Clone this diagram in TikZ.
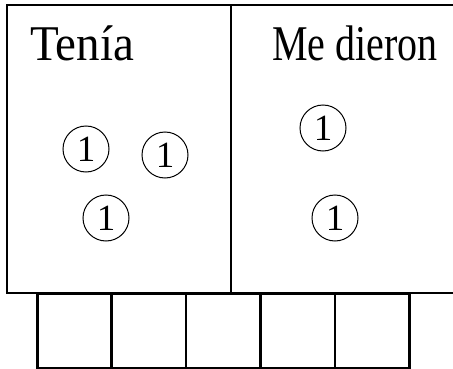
\documentclass[tikz,border=0pt]{standalone}
\usepackage{fontspec}
\usepackage{graphicx}
\setmainfont{Liberation Serif}
\begin{document}
\begin{tikzpicture}[x=1pt,y=1pt,
  panel/.style={draw, line width=2.2pt, minimum width=224pt, minimum height=288pt, inner sep=0pt, anchor=north west},
  cell/.style={draw, line width=2.6pt, minimum width=74.4pt, minimum height=75pt, inner sep=0pt, anchor=north west},
  token/.style={draw, circle, line width=1pt, minimum size=46pt, inner sep=0pt, font=\fontsize{37}{40}\selectfont},
  title/.style={anchor=base west, inner sep=0pt, font=\fontsize{50}{54}\selectfont}]
\useasboundingbox (0,0) rectangle (453,368);
\node[panel] (L) at (6,364) {};
\node[panel] (R) at (230,364) {};
\foreach \i in {0,...,4}{
  \node[cell] (c\i) at ({36+74.4*\i},76) {};
}
\node[title] (t1) at (30,308) {\scalebox{0.94}[1]{Tenía}};
\node[title] (t2) at (272,308) {\scalebox{0.8}[1]{Me dieron}};
\node[token] (a1) at (86,219) {1};
\node[token] (a2) at (165,213) {1};
\node[token] (a3) at (106,150) {1};
\node[token] (b1) at (323,240) {1};
\node[token] (b2) at (335,150) {1};
\end{tikzpicture}
\end{document}
